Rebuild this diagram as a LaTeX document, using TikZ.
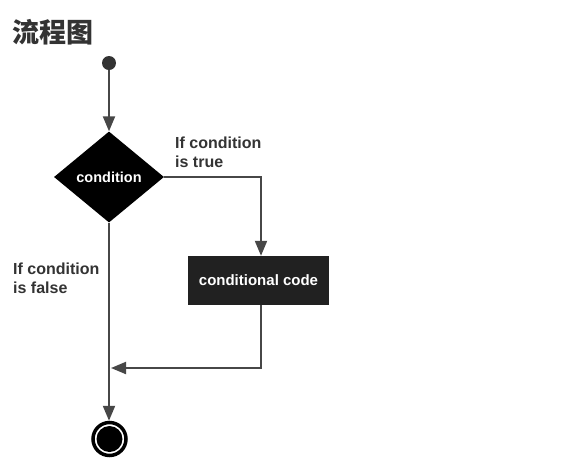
\documentclass[tikz,border=0pt]{standalone}
\usepackage{fontspec}
\setmainfont{Liberation Sans}
\newfontfamily\cjk{Noto Sans CJK SC}
\usetikzlibrary{shapes.geometric,arrows.meta}
\definecolor{lin}{HTML}{474747}
\definecolor{ink}{HTML}{333333}
\tikzset{
  arr/.style={draw=lin,line width=2pt,-{Triangle[length=15pt,width=12pt]}},
  lbl/.style={inner sep=0pt,align=left,font=\bfseries\fontsize{16}{19}\selectfont,text=ink},
  blk/.style={text=white,font=\bfseries\fontsize{14.5}{17}\selectfont,inner sep=0pt}
}
\begin{document}
\begin{tikzpicture}[x=1pt,y=-1pt]
    \useasboundingbox[fill=white](0,0)rectangle(582,459);
    \node[anchor=base west,inner sep=0pt,text=ink,font=\cjk\bfseries\fontsize{27}{30}\selectfont](title)at(12,42){流程图};
    \node[circle,fill=ink,minimum size=14pt,inner sep=0pt](start)at(109,63){};
    \node[blk,diamond,fill=black,minimum width=110pt,minimum height=91pt](cond)at(109,177){condition};
    \node[blk,rectangle,fill=black!87,minimum width=141pt,minimum height=49pt,font=\bfseries\fontsize{15}{17}\selectfont](code)at(258.5,280.5){conditional code};
    \node[circle,draw=black,line width=3.5pt,minimum size=33pt,inner sep=0pt,
          path picture={\fill[black](path picture bounding box.center)circle(13pt);}](end)at(109.5,439){};
    \coordinate(tr)at(261,177);
    \coordinate(join)at(111,368);
    \draw[arr](start)--(cond.north);
    \draw[arr](cond.east)--(tr)--(tr|-code.north);
    \draw[arr](code.south-|tr)--(tr|-join)--(join);
    \draw[arr](cond.south)--(cond.south|-end.north);
    \node[lbl,anchor=base west](ltrue)at(175,167){If condition\\is true};
    \node[lbl,anchor=base west](lfalse)at(13,293){If condition\\is false};
\end{tikzpicture}
\end{document}
